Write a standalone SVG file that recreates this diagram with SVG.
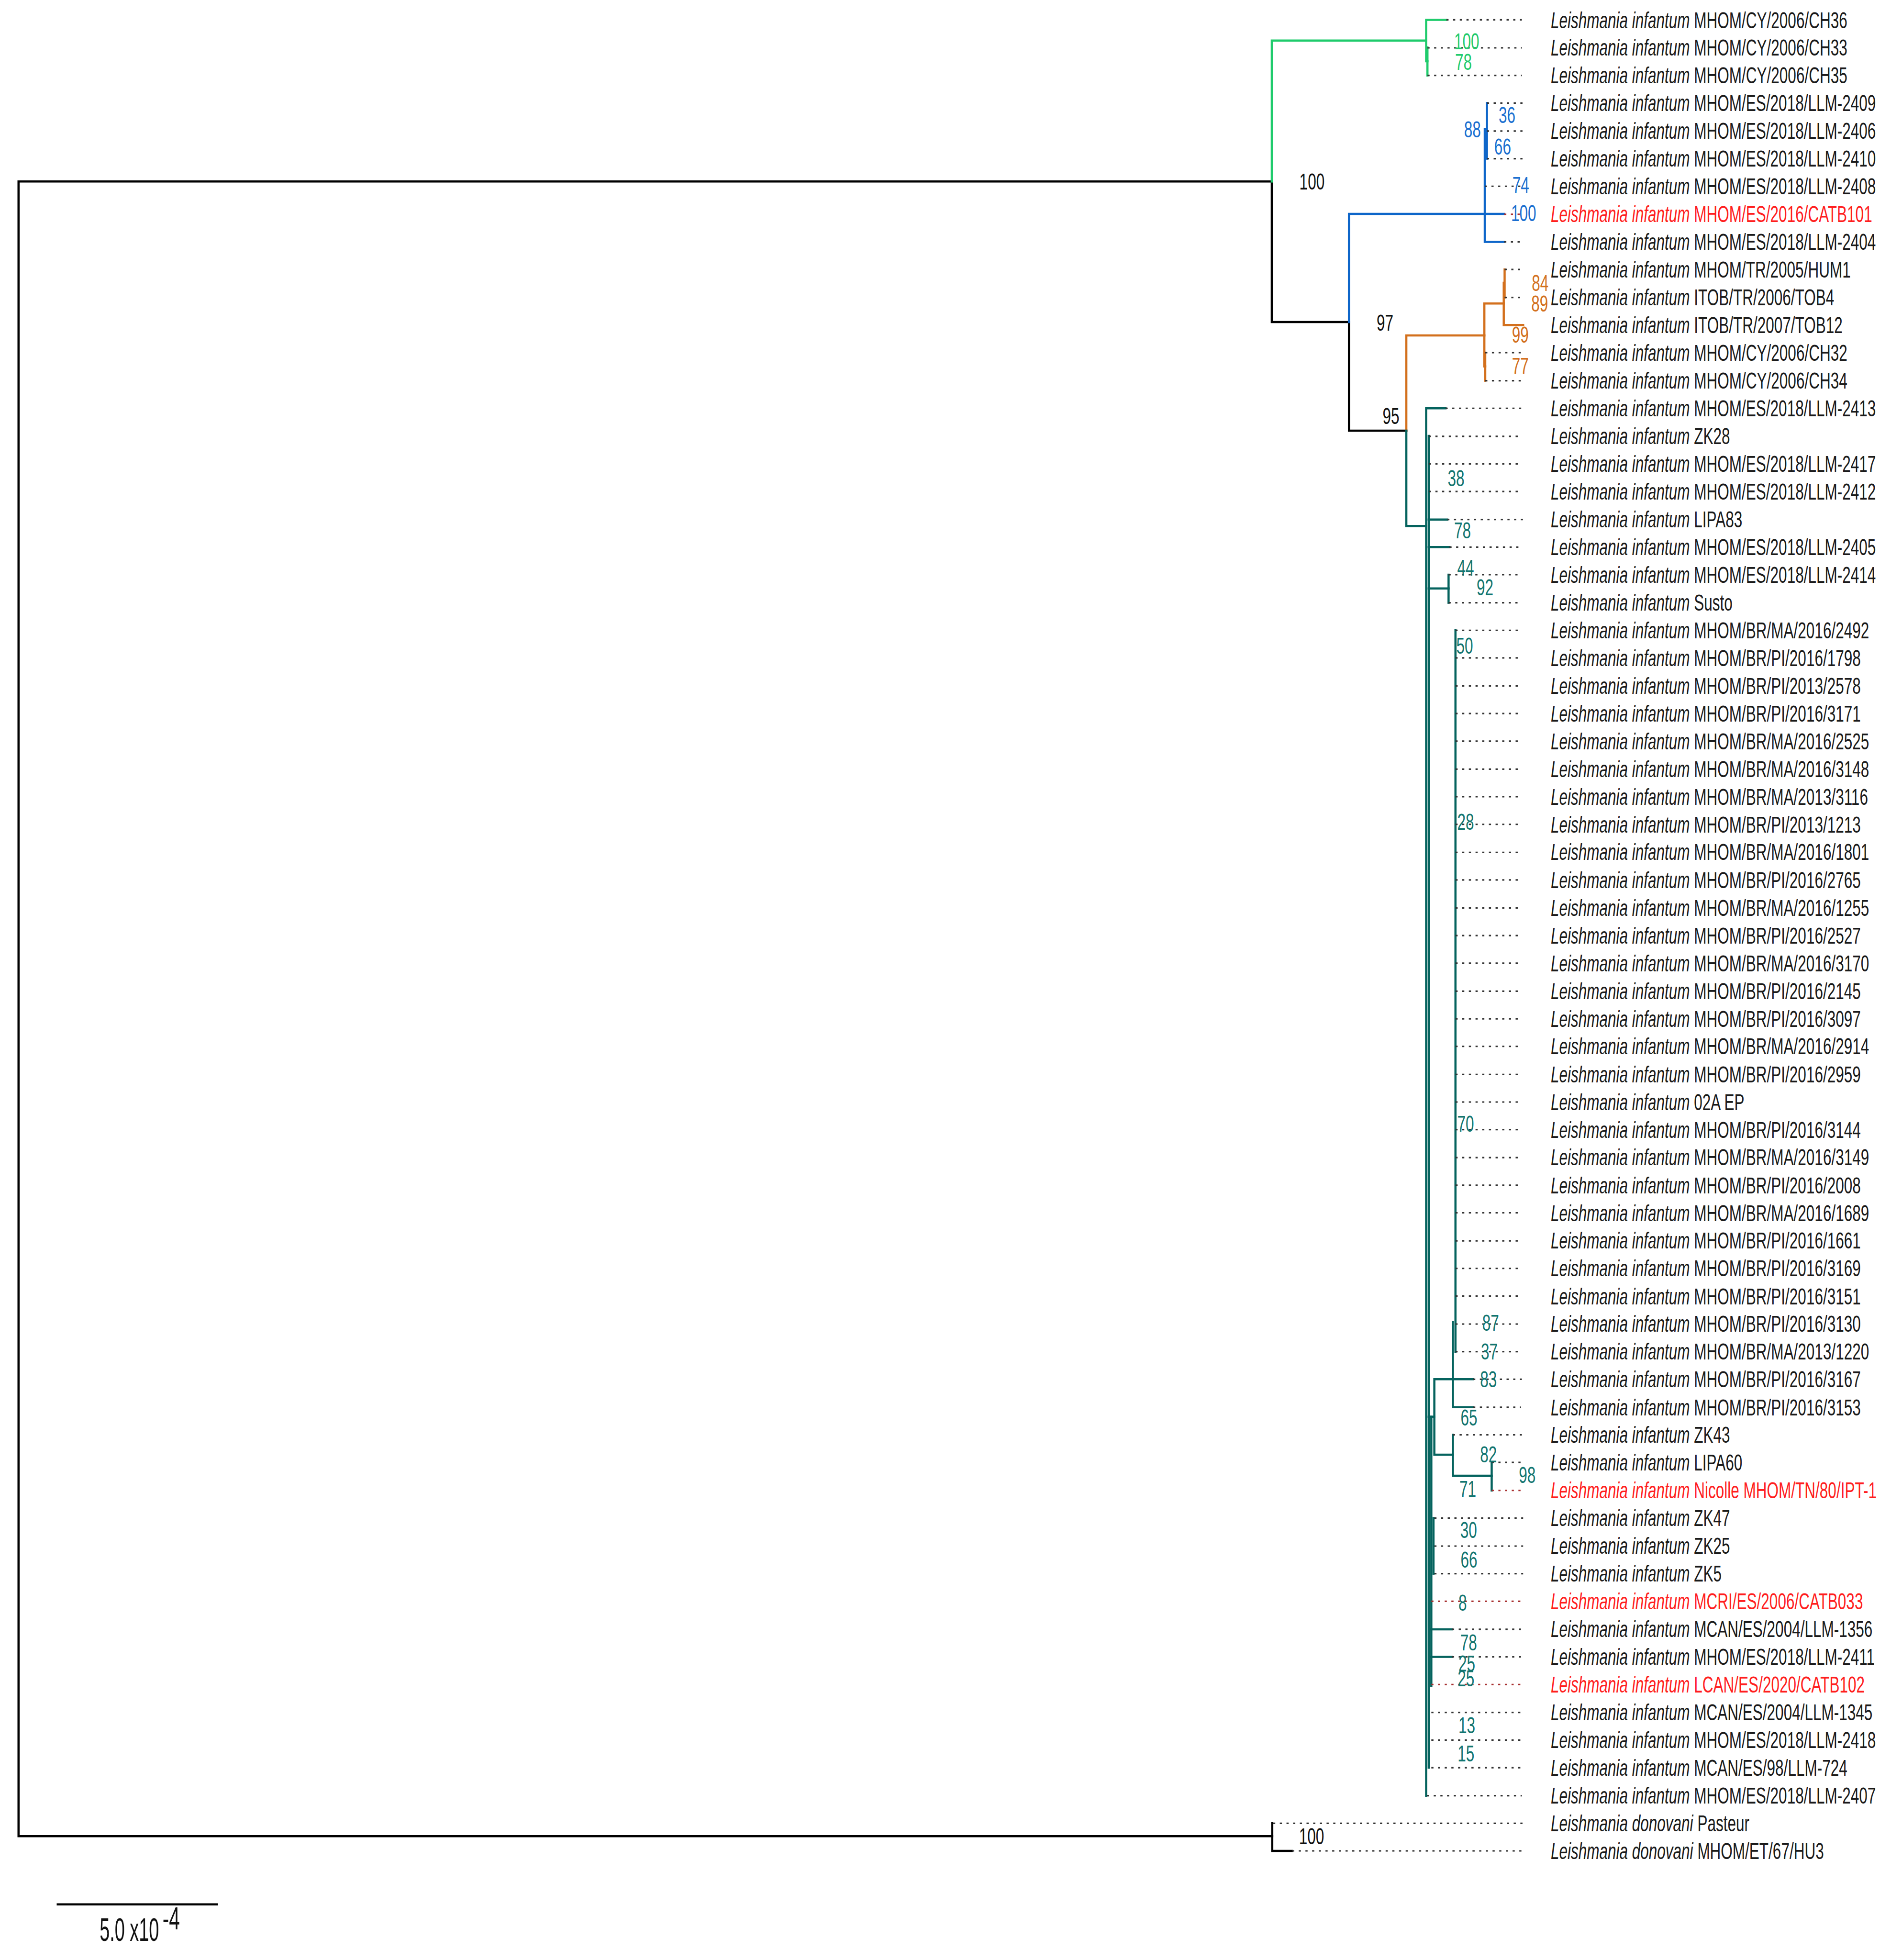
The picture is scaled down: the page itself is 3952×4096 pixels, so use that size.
<svg xmlns="http://www.w3.org/2000/svg" width="3952" height="4096" viewBox="0 0 3952 4096">
<style>
.br{fill:none;stroke-width:5;stroke-linecap:square;stroke-linejoin:miter}
.k{stroke:#000}.g{stroke:#1fcb6c}.b{stroke:#0e66c9}.o{stroke:#d3701d}.t{stroke:#05635e}
.dt{fill:none;stroke:#333;stroke-width:3.5;stroke-dasharray:5 10.5}
.dr{fill:none;stroke:#a83030;stroke-width:3.5;stroke-dasharray:5 10.5}
.lbl{font-family:"Liberation Sans",Arial,sans-serif;font-size:53px;fill:#1a1a1a}
.it{font-style:italic}
.red{fill:#ff1e1e}
.bs{font-family:"Liberation Sans",Arial,sans-serif;font-size:53px}
.bk{fill:#111}.bg{fill:#1fcb6c}.bb{fill:#1a6fd0}.bo{fill:#d3701d}.bt{fill:#127570}
.sc{font-family:"Liberation Sans",Arial,sans-serif;font-size:75px;fill:#111}
</style>
<rect width="3952" height="4096" fill="#fff"/>
<g transform="scale(0.901)">
<g id="connectors">
<g id="branches">
<path class="br k" d="M2950,421 H43 V4259 H2951"/>
<path class="br k" d="M2950,421 V747 H3129 V999 H3262"/>
<path class="br k" d="M2951,4229 V4293 H2997"/>
<path class="br g" d="M2950,421 V94 H3308"/>
<path class="br g" d="M3355,46 H3308 V142 H3311"/>
<path class="br g" d="M3311,110 V175"/>
<path class="br b" d="M3129,747 V496 H3489"/>
<path class="br b" d="M3444,300 V561 H3489"/>
<path class="br b" d="M3449,239 V368"/>
<path class="br o" d="M3262,999 V778 H3443"/>
<path class="br o" d="M3443,704 V850 H3445"/>
<path class="br o" d="M3445,818 V883"/>
<path class="br o" d="M3443,704 H3488"/>
<path class="br o" d="M3488,656 V754 H3533"/>
<path class="br o" d="M3490,625 V690"/>
<path class="br t" d="M3262,999 V1220 H3308"/>
<path class="br t" d="M3353,947 H3308 V4165"/>
<path class="br t" d="M3314,1011 V4100"/>
<path class="br t" d="M3314,1205 H3357"/>
<path class="br t" d="M3314,1269 H3362"/>
<path class="br t" d="M3314,1365 H3360"/>
<path class="br t" d="M3360,1333 V1398"/>
<path class="br t" d="M3376,1462 V3135"/>
<path class="br t" d="M3370,3067 V3264 H3417"/>
<path class="br t" d="M3417,3199 H3327 V3374 H3370"/>
<path class="br t" d="M3370,3328 V3423 H3460"/>
<path class="br t" d="M3460,3392 V3457"/>
<path class="br t" d="M3314,3286 H3327"/>
<path class="br t" d="M3320,3286 V3910"/>
<path class="br t" d="M3325,3521 V3650"/>
<path class="br t" d="M3320,3779 H3368"/>
<path class="br t" d="M3320,3843 H3368"/>
</g>
<g id="leader-lines">
<path class="dt" d="M3355,46H3530 M3311,111H3530 M3311,175H3530 M3449,239H3532 M3449,304H3532 M3449,368H3532 M3444,432H3532 M3489,561H3530 M3490,625H3528 M3490,690H3528 M3445,818H3530 M3445,883H3530 M3353,947H3530 M3314,1012H3525 M3314,1076H3525 M3314,1140H3525 M3357,1205H3535 M3362,1269H3525 M3360,1333H3525 M3360,1398H3525
M3376,1462H3522 M3376,1526H3522 M3376,1591H3522 M3376,1655H3522 M3376,1719H3522 M3376,1784H3522 M3376,1848H3522 M3376,1912H3522 M3376,1977H3522 M3376,2041H3522 M3376,2106H3522 M3376,2170H3522 M3376,2234H3522 M3376,2299H3522 M3376,2363H3522 M3376,2427H3522 M3376,2492H3522 M3376,2556H3522 M3376,2620H3522 M3376,2685H3522 M3376,2749H3522 M3376,2813H3522 M3376,2878H3522 M3376,2942H3522 M3376,3006H3522 M3376,3071H3522 M3376,3135H3522
M3417,3199H3530 M3417,3264H3528 M3370,3328H3533 M3460,3392H3528 M3327,3521H3533 M3327,3586H3533 M3327,3650H3533 M3368,3779H3528 M3368,3843H3528 M3320,3972H3530 M3320,4036H3530 M3320,4100H3530 M3310,4165H3530 M2953,4229H3533 M2997,4293H3533"/>
<path class="dr" d="M3489,497H3530 M3460,3457H3528 M3320,3714H3530 M3320,3907H3530"/>
</g>
</g>
<g id="leaves">
<g id="leaf-01"><text class="lbl" transform="translate(3597,65) scale(0.66,1)"><tspan class="it">Leishmania infantum</tspan> MHOM/CY/2006/CH36</text></g>
<g id="leaf-02"><text class="lbl" transform="translate(3597,129) scale(0.66,1)"><tspan class="it">Leishmania infantum</tspan> MHOM/CY/2006/CH33</text></g>
<g id="leaf-03"><text class="lbl" transform="translate(3597,193.5) scale(0.66,1)"><tspan class="it">Leishmania infantum</tspan> MHOM/CY/2006/CH35</text></g>
<g id="leaf-04"><text class="lbl" transform="translate(3597,258) scale(0.66,1)"><tspan class="it">Leishmania infantum</tspan> MHOM/ES/2018/LLM-2409</text></g>
<g id="leaf-05"><text class="lbl" transform="translate(3597,322) scale(0.66,1)"><tspan class="it">Leishmania infantum</tspan> MHOM/ES/2018/LLM-2406</text></g>
<g id="leaf-06"><text class="lbl" transform="translate(3597,386.5) scale(0.66,1)"><tspan class="it">Leishmania infantum</tspan> MHOM/ES/2018/LLM-2410</text></g>
<g id="leaf-07"><text class="lbl" transform="translate(3597,451) scale(0.66,1)"><tspan class="it">Leishmania infantum</tspan> MHOM/ES/2018/LLM-2408</text></g>
<g id="leaf-08"><text class="lbl red" transform="translate(3597,515) scale(0.66,1)"><tspan class="it">Leishmania infantum</tspan> MHOM/ES/2016/CATB101</text></g>
<g id="leaf-09"><text class="lbl" transform="translate(3597,579.5) scale(0.66,1)"><tspan class="it">Leishmania infantum</tspan> MHOM/ES/2018/LLM-2404</text></g>
<g id="leaf-10"><text class="lbl" transform="translate(3597,644) scale(0.66,1)"><tspan class="it">Leishmania infantum</tspan> MHOM/TR/2005/HUM1</text></g>
<g id="leaf-11"><text class="lbl" transform="translate(3597,708) scale(0.66,1)"><tspan class="it">Leishmania infantum</tspan> ITOB/TR/2006/TOB4</text></g>
<g id="leaf-12"><text class="lbl" transform="translate(3597,772.5) scale(0.66,1)"><tspan class="it">Leishmania infantum</tspan> ITOB/TR/2007/TOB12</text></g>
<g id="leaf-13"><text class="lbl" transform="translate(3597,837) scale(0.66,1)"><tspan class="it">Leishmania infantum</tspan> MHOM/CY/2006/CH32</text></g>
<g id="leaf-14"><text class="lbl" transform="translate(3597,901) scale(0.66,1)"><tspan class="it">Leishmania infantum</tspan> MHOM/CY/2006/CH34</text></g>
<g id="leaf-15"><text class="lbl" transform="translate(3597,965.5) scale(0.66,1)"><tspan class="it">Leishmania infantum</tspan> MHOM/ES/2018/LLM-2413</text></g>
<g id="leaf-16"><text class="lbl" transform="translate(3597,1030) scale(0.66,1)"><tspan class="it">Leishmania infantum</tspan> ZK28</text></g>
<g id="leaf-17"><text class="lbl" transform="translate(3597,1094.5) scale(0.66,1)"><tspan class="it">Leishmania infantum</tspan> MHOM/ES/2018/LLM-2417</text></g>
<g id="leaf-18"><text class="lbl" transform="translate(3597,1158.5) scale(0.66,1)"><tspan class="it">Leishmania infantum</tspan> MHOM/ES/2018/LLM-2412</text></g>
<g id="leaf-19"><text class="lbl" transform="translate(3597,1223) scale(0.66,1)"><tspan class="it">Leishmania infantum</tspan> LIPA83</text></g>
<g id="leaf-20"><text class="lbl" transform="translate(3597,1287.5) scale(0.66,1)"><tspan class="it">Leishmania infantum</tspan> MHOM/ES/2018/LLM-2405</text></g>
<g id="leaf-21"><text class="lbl" transform="translate(3597,1352) scale(0.66,1)"><tspan class="it">Leishmania infantum</tspan> MHOM/ES/2018/LLM-2414</text></g>
<g id="leaf-22"><text class="lbl" transform="translate(3597,1416) scale(0.66,1)"><tspan class="it">Leishmania infantum</tspan> Susto</text></g>
<g id="leaf-23"><text class="lbl" transform="translate(3597,1480.5) scale(0.66,1)"><tspan class="it">Leishmania infantum</tspan> MHOM/BR/MA/2016/2492</text></g>
<g id="leaf-24"><text class="lbl" transform="translate(3597,1545) scale(0.66,1)"><tspan class="it">Leishmania infantum</tspan> MHOM/BR/PI/2016/1798</text></g>
<g id="leaf-25"><text class="lbl" transform="translate(3597,1609) scale(0.66,1)"><tspan class="it">Leishmania infantum</tspan> MHOM/BR/PI/2013/2578</text></g>
<g id="leaf-26"><text class="lbl" transform="translate(3597,1673.5) scale(0.66,1)"><tspan class="it">Leishmania infantum</tspan> MHOM/BR/PI/2016/3171</text></g>
<g id="leaf-27"><text class="lbl" transform="translate(3597,1738) scale(0.66,1)"><tspan class="it">Leishmania infantum</tspan> MHOM/BR/MA/2016/2525</text></g>
<g id="leaf-28"><text class="lbl" transform="translate(3597,1802) scale(0.66,1)"><tspan class="it">Leishmania infantum</tspan> MHOM/BR/MA/2016/3148</text></g>
<g id="leaf-29"><text class="lbl" transform="translate(3597,1866.5) scale(0.66,1)"><tspan class="it">Leishmania infantum</tspan> MHOM/BR/MA/2013/3116</text></g>
<g id="leaf-30"><text class="lbl" transform="translate(3597,1931) scale(0.66,1)"><tspan class="it">Leishmania infantum</tspan> MHOM/BR/PI/2013/1213</text></g>
<g id="leaf-31"><text class="lbl" transform="translate(3597,1995) scale(0.66,1)"><tspan class="it">Leishmania infantum</tspan> MHOM/BR/MA/2016/1801</text></g>
<g id="leaf-32"><text class="lbl" transform="translate(3597,2059.5) scale(0.66,1)"><tspan class="it">Leishmania infantum</tspan> MHOM/BR/PI/2016/2765</text></g>
<g id="leaf-33"><text class="lbl" transform="translate(3597,2124) scale(0.66,1)"><tspan class="it">Leishmania infantum</tspan> MHOM/BR/MA/2016/1255</text></g>
<g id="leaf-34"><text class="lbl" transform="translate(3597,2188.5) scale(0.66,1)"><tspan class="it">Leishmania infantum</tspan> MHOM/BR/PI/2016/2527</text></g>
<g id="leaf-35"><text class="lbl" transform="translate(3597,2252.5) scale(0.66,1)"><tspan class="it">Leishmania infantum</tspan> MHOM/BR/MA/2016/3170</text></g>
<g id="leaf-36"><text class="lbl" transform="translate(3597,2317) scale(0.66,1)"><tspan class="it">Leishmania infantum</tspan> MHOM/BR/PI/2016/2145</text></g>
<g id="leaf-37"><text class="lbl" transform="translate(3597,2381.5) scale(0.66,1)"><tspan class="it">Leishmania infantum</tspan> MHOM/BR/PI/2016/3097</text></g>
<g id="leaf-38"><text class="lbl" transform="translate(3597,2445.5) scale(0.66,1)"><tspan class="it">Leishmania infantum</tspan> MHOM/BR/MA/2016/2914</text></g>
<g id="leaf-39"><text class="lbl" transform="translate(3597,2510) scale(0.66,1)"><tspan class="it">Leishmania infantum</tspan> MHOM/BR/PI/2016/2959</text></g>
<g id="leaf-40"><text class="lbl" transform="translate(3597,2574.5) scale(0.66,1)"><tspan class="it">Leishmania infantum</tspan> 02A EP</text></g>
<g id="leaf-41"><text class="lbl" transform="translate(3597,2639) scale(0.66,1)"><tspan class="it">Leishmania infantum</tspan> MHOM/BR/PI/2016/3144</text></g>
<g id="leaf-42"><text class="lbl" transform="translate(3597,2703) scale(0.66,1)"><tspan class="it">Leishmania infantum</tspan> MHOM/BR/MA/2016/3149</text></g>
<g id="leaf-43"><text class="lbl" transform="translate(3597,2767.5) scale(0.66,1)"><tspan class="it">Leishmania infantum</tspan> MHOM/BR/PI/2016/2008</text></g>
<g id="leaf-44"><text class="lbl" transform="translate(3597,2832) scale(0.66,1)"><tspan class="it">Leishmania infantum</tspan> MHOM/BR/MA/2016/1689</text></g>
<g id="leaf-45"><text class="lbl" transform="translate(3597,2896) scale(0.66,1)"><tspan class="it">Leishmania infantum</tspan> MHOM/BR/PI/2016/1661</text></g>
<g id="leaf-46"><text class="lbl" transform="translate(3597,2960.5) scale(0.66,1)"><tspan class="it">Leishmania infantum</tspan> MHOM/BR/PI/2016/3169</text></g>
<g id="leaf-47"><text class="lbl" transform="translate(3597,3025) scale(0.66,1)"><tspan class="it">Leishmania infantum</tspan> MHOM/BR/PI/2016/3151</text></g>
<g id="leaf-48"><text class="lbl" transform="translate(3597,3089) scale(0.66,1)"><tspan class="it">Leishmania infantum</tspan> MHOM/BR/PI/2016/3130</text></g>
<g id="leaf-49"><text class="lbl" transform="translate(3597,3153.5) scale(0.66,1)"><tspan class="it">Leishmania infantum</tspan> MHOM/BR/MA/2013/1220</text></g>
<g id="leaf-50"><text class="lbl" transform="translate(3597,3218) scale(0.66,1)"><tspan class="it">Leishmania infantum</tspan> MHOM/BR/PI/2016/3167</text></g>
<g id="leaf-51"><text class="lbl" transform="translate(3597,3282.5) scale(0.66,1)"><tspan class="it">Leishmania infantum</tspan> MHOM/BR/PI/2016/3153</text></g>
<g id="leaf-52"><text class="lbl" transform="translate(3597,3346.5) scale(0.66,1)"><tspan class="it">Leishmania infantum</tspan> ZK43</text></g>
<g id="leaf-53"><text class="lbl" transform="translate(3597,3411) scale(0.66,1)"><tspan class="it">Leishmania infantum</tspan> LIPA60</text></g>
<g id="leaf-54"><text class="lbl red" transform="translate(3597,3475.5) scale(0.66,1)"><tspan class="it">Leishmania infantum</tspan> Nicolle MHOM/TN/80/IPT-1</text></g>
<g id="leaf-55"><text class="lbl" transform="translate(3597,3539.5) scale(0.66,1)"><tspan class="it">Leishmania infantum</tspan> ZK47</text></g>
<g id="leaf-56"><text class="lbl" transform="translate(3597,3604) scale(0.66,1)"><tspan class="it">Leishmania infantum</tspan> ZK25</text></g>
<g id="leaf-57"><text class="lbl" transform="translate(3597,3668.5) scale(0.66,1)"><tspan class="it">Leishmania infantum</tspan> ZK5</text></g>
<g id="leaf-58"><text class="lbl red" transform="translate(3597,3732.5) scale(0.66,1)"><tspan class="it">Leishmania infantum</tspan> MCRI/ES/2006/CATB033</text></g>
<g id="leaf-59"><text class="lbl" transform="translate(3597,3797) scale(0.66,1)"><tspan class="it">Leishmania infantum</tspan> MCAN/ES/2004/LLM-1356</text></g>
<g id="leaf-60"><text class="lbl" transform="translate(3597,3861.5) scale(0.66,1)"><tspan class="it">Leishmania infantum</tspan> MHOM/ES/2018/LLM-2411</text></g>
<g id="leaf-61"><text class="lbl red" transform="translate(3597,3926) scale(0.66,1)"><tspan class="it">Leishmania infantum</tspan> LCAN/ES/2020/CATB102</text></g>
<g id="leaf-62"><text class="lbl" transform="translate(3597,3990) scale(0.66,1)"><tspan class="it">Leishmania infantum</tspan> MCAN/ES/2004/LLM-1345</text></g>
<g id="leaf-63"><text class="lbl" transform="translate(3597,4054.5) scale(0.66,1)"><tspan class="it">Leishmania infantum</tspan> MHOM/ES/2018/LLM-2418</text></g>
<g id="leaf-64"><text class="lbl" transform="translate(3597,4119) scale(0.66,1)"><tspan class="it">Leishmania infantum</tspan> MCAN/ES/98/LLM-724</text></g>
<g id="leaf-65"><text class="lbl" transform="translate(3597,4183) scale(0.66,1)"><tspan class="it">Leishmania infantum</tspan> MHOM/ES/2018/LLM-2407</text></g>
<g id="leaf-66"><text class="lbl" transform="translate(3597,4247.5) scale(0.66,1)"><tspan class="it">Leishmania donovani</tspan> Pasteur</text></g>
<g id="leaf-67"><text class="lbl" transform="translate(3597,4312) scale(0.66,1)"><tspan class="it">Leishmania donovani</tspan> MHOM/ET/67/HU3</text></g>
</g>
<g id="support-values">
<g id="node-root-infantum"><text class="bs bk" transform="translate(3014,439) scale(0.66,1)">100</text></g>
<g id="node-97"><text class="bs bk" transform="translate(3193,767) scale(0.66,1)">97</text></g>
<g id="node-95"><text class="bs bk" transform="translate(3207,983) scale(0.66,1)">95</text></g>
<g id="node-donovani"><text class="bs bk" transform="translate(3013,4278) scale(0.66,1)">100</text></g>
<g id="node-green-1"><text class="bs bg" transform="translate(3373,114) scale(0.66,1)">100</text></g>
<g id="node-green-2"><text class="bs bg" transform="translate(3375,162) scale(0.66,1)">78</text></g>
<g id="node-blue-1"><text class="bs bb" transform="translate(3396,318) scale(0.66,1)">88</text></g>
<g id="node-blue-2"><text class="bs bb" transform="translate(3476,285) scale(0.66,1)">36</text></g>
<g id="node-blue-3"><text class="bs bb" transform="translate(3466,358) scale(0.66,1)">66</text></g>
<g id="node-blue-4"><text class="bs bb" transform="translate(3508,447) scale(0.66,1)">74</text></g>
<g id="node-blue-5"><text class="bs bb" transform="translate(3505,513) scale(0.66,1)">100</text></g>
<g id="node-orange-1"><text class="bs bo" transform="translate(3553,675) scale(0.66,1)">84</text></g>
<g id="node-orange-2"><text class="bs bo" transform="translate(3552,723) scale(0.66,1)">89</text></g>
<g id="node-orange-3"><text class="bs bo" transform="translate(3507,795) scale(0.66,1)">99</text></g>
<g id="node-orange-4"><text class="bs bo" transform="translate(3507,867) scale(0.66,1)">77</text></g>
<g id="node-teal-38"><text class="bs bt" transform="translate(3358,1128) scale(0.66,1)">38</text></g>
<g id="node-teal-78a"><text class="bs bt" transform="translate(3373,1249) scale(0.66,1)">78</text></g>
<g id="node-teal-44"><text class="bs bt" transform="translate(3380,1335) scale(0.66,1)">44</text></g>
<g id="node-teal-92"><text class="bs bt" transform="translate(3425,1381) scale(0.66,1)">92</text></g>
<g id="node-teal-50"><text class="bs bt" transform="translate(3378,1516) scale(0.66,1)">50</text></g>
<g id="node-teal-28"><text class="bs bt" transform="translate(3380,1924) scale(0.66,1)">28</text></g>
<g id="node-teal-70"><text class="bs bt" transform="translate(3380,2625) scale(0.66,1)">70</text></g>
<g id="node-teal-87"><text class="bs bt" transform="translate(3438,3087) scale(0.66,1)">87</text></g>
<g id="node-teal-37"><text class="bs bt" transform="translate(3435,3153) scale(0.66,1)">37</text></g>
<g id="node-teal-83"><text class="bs bt" transform="translate(3433,3217) scale(0.66,1)">83</text></g>
<g id="node-teal-65"><text class="bs bt" transform="translate(3388,3306) scale(0.66,1)">65</text></g>
<g id="node-teal-82"><text class="bs bt" transform="translate(3433,3392) scale(0.66,1)">82</text></g>
<g id="node-teal-98"><text class="bs bt" transform="translate(3523,3440) scale(0.66,1)">98</text></g>
<g id="node-teal-71"><text class="bs bt" transform="translate(3385,3472) scale(0.66,1)">71</text></g>
<g id="node-teal-30"><text class="bs bt" transform="translate(3387,3567) scale(0.66,1)">30</text></g>
<g id="node-teal-66"><text class="bs bt" transform="translate(3388,3636) scale(0.66,1)">66</text></g>
<g id="node-teal-8"><text class="bs bt" transform="translate(3383,3736) scale(0.66,1)">8</text></g>
<g id="node-teal-78b"><text class="bs bt" transform="translate(3387,3828) scale(0.66,1)">78</text></g>
<g id="node-teal-25a"><text class="bs bt" transform="translate(3383,3877) scale(0.66,1)">25</text></g>
<g id="node-teal-25b"><text class="bs bt" transform="translate(3381,3911) scale(0.66,1)">25</text></g>
<g id="node-teal-13"><text class="bs bt" transform="translate(3383,4020) scale(0.66,1)">13</text></g>
<g id="node-teal-15"><text class="bs bt" transform="translate(3381,4086) scale(0.66,1)">15</text></g>
</g>
<g id="scale-bar">
<path class="br k" d="M134,4417 H503"/>
<text class="sc" transform="translate(231,4502) scale(0.56,1)">5.0 x10</text>
<text class="sc" transform="translate(377,4475) scale(0.6,1)">-4</text>
</g>
</g>
</svg>
